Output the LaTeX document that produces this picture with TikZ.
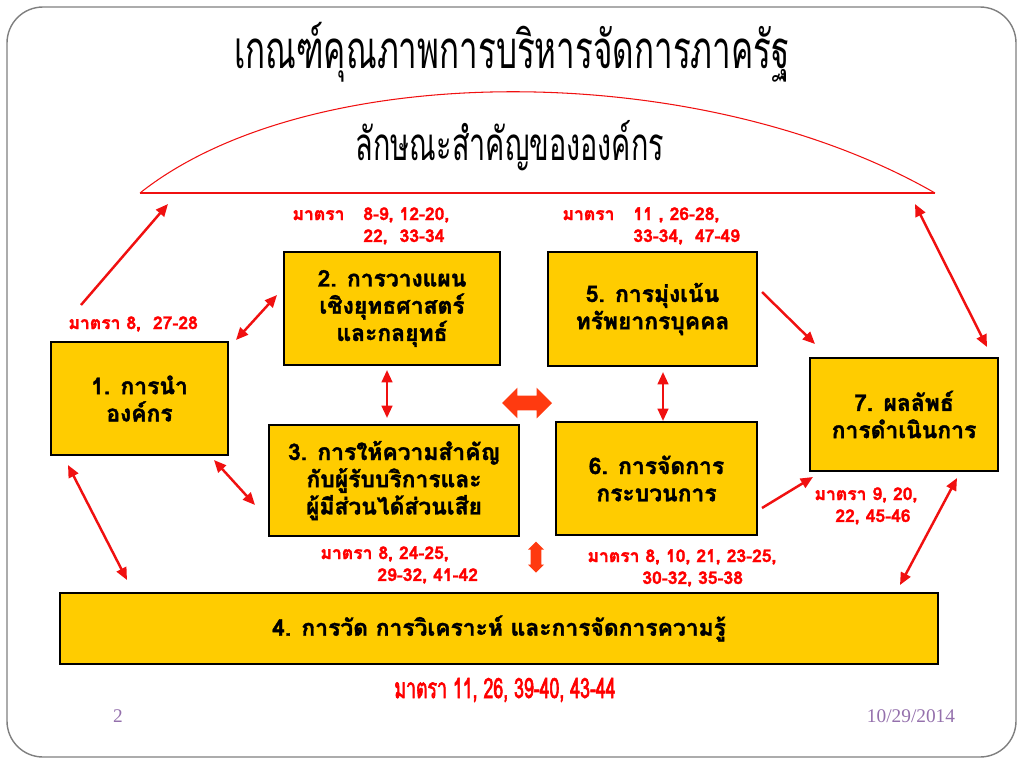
\documentclass[tikz,border=0pt]{standalone}
\usepackage{fontspec}
\newfontfamily\thaifont[Script=Thai,BoldFeatures={FakeBold=1.6}]{Loma}
\newfontfamily\thaicond[Script=Thai,FakeStretch=0.63,AutoFakeBold=2]{Loma}
\newfontfamily\footfont{Liberation Serif}
\definecolor{boxgold}{HTML}{FFCC00}
\definecolor{linkred}{HTML}{F01010}
\definecolor{labelred}{HTML}{FF0000}
\definecolor{fatred}{HTML}{FF3A10}
\definecolor{footpurple}{HTML}{9470AC}
\definecolor{framegray}{HTML}{7F7F7F}
\usetikzlibrary{arrows.meta, positioning, shapes.arrows}

\begin{document}
\begin{tikzpicture}[x=0.02cm, y=-0.02cm,
    box/.style={draw=black, line width=1.3pt, fill=boxgold, align=center,
      inner sep=0pt, font=\thaifont\bfseries\fontsize{13}{15.5}\selectfont},
    mlabel/.style={anchor=base west, inner sep=0pt, text=labelred,
      font=\thaifont\bfseries\fontsize{10}{12.5}\selectfont},
    link/.style={draw=linkred, line width=1.4pt, -{Triangle[length=7pt,width=6pt]}},
    dlink/.style={link, {Triangle[length=7pt,width=6pt]}-{Triangle[length=7pt,width=6pt]}},
    fatarrow/.style={double arrow, fill=fatred, draw=none},
    arcline/.style={draw=linkred, line width=0.6pt}]
  \useasboundingbox (0,0) rectangle (1024,768);
  % Slide frame
  \draw[framegray, line width=0.8pt, rounded corners=0.72cm] (7,7) rectangle (1016,757);
  % Titles
  \node (title) at (512,52) {\thaicond\fontsize{30}{30}\selectfont เกณฑ์คุณภาพการบริหารจัดการภาครัฐ};
  \node (profile) at (510,146) {\thaicond\fontsize{26}{26}\selectfont ลักษณะสำคัญขององค์กร};
  % Arc over the profile
  \coordinate (arcL) at (140,193);
  \coordinate (arcR) at (935,193);
  \draw[arcline] (arcL) .. controls (310,58) and (700,58) .. (arcR);
  \draw[arcline] (arcL) -- (arcR);
  % Categories
  \node[box, minimum width=3.54cm, minimum height=2.26cm] (c1) at (139.5,398.5) {1. การนำ\\องค์กร};
  \node[box, minimum width=4.32cm, minimum height=2.26cm] (c2) at (392,308.5) {2. การวางแผน\\เชิงยุทธศาสตร์\\และกลยุทธ์};
  \node[box, minimum width=5.00cm, minimum height=2.22cm] (c3) at (394,480.5) {3. การให้ความสำคัญ\\กับผู้รับบริการและ\\ผู้มีส่วนได้ส่วนเสีย};
  \node[box, minimum width=17.56cm, minimum height=1.42cm] (c4) at (499,628.5) {4. การวัด การวิเคราะห์ และการจัดการความรู้};
  \node[box, minimum width=4.18cm, minimum height=2.28cm] (c5) at (652.5,309) {5. การมุ่งเน้น\\ทรัพยากรบุคคล};
  \node[box, minimum width=4.02cm, minimum height=2.26cm] (c6) at (656.5,478.5) {6. การจัดการ\\กระบวนการ};
  \node[box, minimum width=3.76cm, minimum height=2.26cm] (c7) at (904,414.5) {7. ผลลัพธ์\\การดำเนินการ};
  % Section labels
  \node[mlabel] (m1) at (68,329) {มาตรา 8,\ \ 27-28};
  \node[mlabel] (m2) at (292,220) {\begin{tabular}[t]{@{}l@{}}\makebox[1.42cm][l]{มาตรา}8-9, 12-20,\\\hspace*{1.42cm}22,\ \ 33-34\end{tabular}};
  \node[mlabel] (m5) at (562,220) {\begin{tabular}[t]{@{}l@{}}\makebox[1.42cm][l]{มาตรา}11 , 26-28,\\\hspace*{1.42cm}33-34,\ \ 47-49\end{tabular}};
  \node[mlabel] (m7) at (814,500) {\begin{tabular}[t]{@{}l@{}}มาตรา 9, 20,\\\hspace*{0.42cm}22, 45-46\end{tabular}};
  \node[mlabel] (m3) at (320,559) {\begin{tabular}[t]{@{}l@{}}มาตรา 8, 24-25,\\\hspace*{1.14cm}29-32, 41-42\end{tabular}};
  \node[mlabel] (m6) at (587,562) {\begin{tabular}[t]{@{}l@{}}มาตรา 8, 10, 21, 23-25,\\\hspace*{1.1cm}30-32, 35-38\end{tabular}};
  \node[text=labelred, font=\thaicond\bfseries\fontsize{16}{16}\selectfont] (m4) at (505,690) {มาตรา 11, 26, 39-40, 43-44};
  % Links
  \coordinate (l1a) at (81,305);  \coordinate (l1b) at (168,204);
  \coordinate (l2a) at (236,340); \coordinate (l2b) at (277,295);
  \coordinate (l3a) at (387,370); \coordinate (l3b) at (387,418);
  \coordinate (l4a) at (214,460); \coordinate (l4b) at (255,505);
  \coordinate (l5a) at (68,465);  \coordinate (l5b) at (127,580);
  \coordinate (l6a) at (663,372); \coordinate (l6b) at (663,421);
  \coordinate (l7a) at (762,292); \coordinate (l7b) at (815,344);
  \coordinate (l8a) at (762,508); \coordinate (l8b) at (813,477);
  \coordinate (l9a) at (915,204); \coordinate (l9b) at (987,347);
  \coordinate (l10a) at (900,585); \coordinate (l10b) at (957,478);
  \draw[link] (l1a) -- (l1b);
  \draw[dlink] (l2a) -- (l2b);
  \draw[dlink] (l3a) -- (l3b);
  \draw[dlink] (l4a) -- (l4b);
  \draw[dlink] (l5a) -- (l5b);
  \draw[dlink] (l6a) -- (l6b);
  \draw[link] (l7a) -- (l7b);
  \draw[link] (l8a) -- (l8b);
  \draw[dlink] (l9a) -- (l9b);
  \draw[dlink] (l10a) -- (l10b);
  % Fat arrows
  \node[fatarrow, minimum height=1cm, minimum width=0.6cm, inner sep=0.14cm,
    double arrow head extend=0.16cm] (fh) at (527,403) {};
  \node[fatarrow, shape border rotate=90, minimum height=0.62cm, minimum width=0.32cm,
    inner sep=0.08cm, double arrow head extend=0.04cm] (fv) at (536,557) {};
  % Footer
  \node[text=footpurple, font=\footfont\fontsize{11}{11}\selectfont] (pg) at (118,716) {2};
  \node[text=footpurple, font=\footfont\fontsize{11}{11}\selectfont] (date) at (911,716) {10/29/2014};
\end{tikzpicture}
\end{document}
